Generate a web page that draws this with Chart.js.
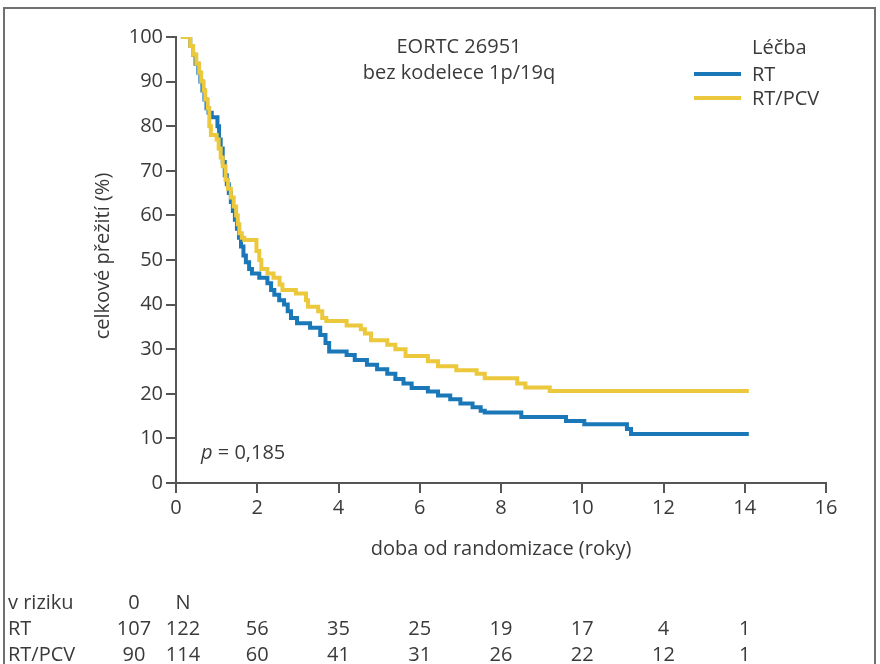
<!DOCTYPE html>
<html>
<head>
<meta charset="utf-8">
<script src="https://cdn.jsdelivr.net/npm/chart.js@4.4.0/dist/chart.umd.min.js"></script>
<style>
  html, body { margin: 0; padding: 0; background: #fff; }
  #wrap { position: relative; width: 880px; height: 664px; overflow: hidden; }
  #frame { position: absolute; left: 3px; top: 7px; right: 4px; bottom: -6px; border: 2px solid #707070; }
  canvas { position: absolute; left: 0; top: 0; }
</style>
</head>
<body>
<div id="wrap">
  <canvas id="km" width="880" height="664"></canvas>
  <div id="frame"></div>
</div>
<script>
// Kaplan-Meier: celkove preziti, EORTC 26951 bez kodelece 1p/19q
// hodnoty (roky, %)

const rtTimes = [0.12, 0.35, 0.42, 0.48, 0.55, 0.6, 0.65, 0.7, 0.75, 0.8, 0.88, 1.02, 1.06, 1.1, 1.15, 1.2, 1.25, 1.3, 1.35, 1.4, 1.45, 1.5, 1.55, 1.6, 1.66, 1.72, 1.8, 1.87, 2.05, 2.25, 2.34, 2.42, 2.54, 2.66, 2.75, 2.83, 2.98, 3.3, 3.55, 3.68, 3.77, 4.2, 4.4, 4.7, 4.95, 5.2, 5.4, 5.6, 5.8, 6.2, 6.45, 6.75, 7.0, 7.3, 7.5, 7.6, 8.5, 9.6, 10.05, 11.1, 11.2, 14.1];
const rtSurv  = [100, 98, 96, 94, 92, 90, 88, 86, 84, 83, 82, 80, 77, 75, 72, 69, 67, 65, 63, 61, 59, 57, 55, 53, 51, 49.5, 48, 47, 46, 44.8, 43.3, 42.2, 41, 40, 38.5, 37, 35.8, 34.8, 33.2, 31.4, 29.5, 28.7, 27.6, 26.5, 25.5, 24.5, 23.3, 22.3, 21.3, 20.5, 19.6, 18.8, 17.8, 17, 16.2, 15.8, 14.8, 13.9, 13.2, 12.1, 11.0, 11.0];

const pcvTimes = [0.12, 0.35, 0.42, 0.5, 0.57, 0.62, 0.68, 0.72, 0.78, 0.82, 0.86, 1.0, 1.05, 1.1, 1.15, 1.22, 1.28, 1.35, 1.42, 1.48, 1.52, 1.56, 1.62, 1.68, 1.98, 2.05, 2.1, 2.25, 2.4, 2.55, 2.62, 2.95, 3.2, 3.25, 3.5, 3.6, 3.7, 4.2, 4.55, 4.65, 4.8, 5.2, 5.4, 5.65, 6.2, 6.45, 6.9, 7.4, 7.6, 8.4, 8.6, 9.2, 14.1];
const pcvSurv  = [100, 98, 96, 94, 92, 90, 88, 86, 84, 80, 78, 77, 75, 73, 71, 68, 66, 64, 62, 60, 58, 56, 55, 54.5, 52, 50, 48, 47, 46, 44.5, 43.3, 42.5, 41, 39.5, 38.5, 37, 36.3, 35.3, 34.5, 33.5, 32, 31, 30, 28.5, 27.3, 26.2, 25.3, 24.5, 23.5, 22.3, 21.4, 20.6, 20.6];

// tabulka "v riziku"
const riskYears = [2, 4, 6, 8, 10, 12, 14];
const rtAtRisk  = [56, 35, 25, 19, 17, 4, 1];
const pcvAtRisk = [60, 41, 31, 26, 22, 12, 1];
const startHeads = ['0', 'N'];
const rtStart  = [107, 122];
const pcvStart = [90, 114];

const colorRT  = '#1a78b8';
const colorPCV = '#ecc83c';
const textColor = '#3a3a3a';
const axisColor = '#555555';
const FONT = '"Open Sans", sans-serif';
const FS = 20;

const toPoints = (xs, ys) => xs.map((x, i) => ({ x: x, y: ys[i] }));

// ---------------------------------------------------------
// texty kolem grafu (titulek, legenda, p, tabulka)
// ---------------------------------------------------------
const extras = {
    id: 'extras',
    afterDraw(chart) {
        const ctx = chart.ctx;
        const xs = chart.scales.x;
        const area = chart.chartArea;
        ctx.save();
        ctx.fillStyle = textColor;
        ctx.font = `${FS}px ${FONT}`;
        ctx.textBaseline = 'middle';

        // nadpis
        ctx.textAlign = 'center';
        ctx.fillText('EORTC 26951', 459, 47);
        ctx.fillText('bez kodelece 1p/19q', 459, 73);

        // osy
        ctx.fillText('doba od randomizace (roky)', (area.left + area.right) / 2, 549);
        ctx.save();
        ctx.translate(103, (area.top + area.bottom) / 2 - 4);
        ctx.rotate(-Math.PI / 2);
        ctx.fillText('celkové přežití (%)', 0, 0);
        ctx.restore();

        // legenda
        ctx.textAlign = 'left';
        ctx.fillText('Léčba', 752, 48);
        const leg = [['RT', colorRT, 74], ['RT/PCV', colorPCV, 98]];
        leg.forEach(([lab, col, y]) => {
            ctx.strokeStyle = col;
            ctx.lineWidth = 4;
            ctx.beginPath();
            ctx.moveTo(694, y);
            ctx.lineTo(741, y);
            ctx.stroke();
            ctx.fillText(lab, 752, y + 1);
        });

        // p hodnota
        ctx.font = `italic ${FS}px ${FONT}`;
        ctx.fillText('p', 201, 453);
        const pw = ctx.measureText('p').width;
        ctx.font = `${FS}px ${FONT}`;
        ctx.fillText(' = 0,185', 201 + pw, 453);

        // v riziku
        const rows = [
            ['v riziku', startHeads, null, 603],
            ['RT', rtStart, rtAtRisk, 629],
            ['RT/PCV', pcvStart, pcvAtRisk, 655]
        ];
        const x0 = xs.getPixelForValue(0);
        rows.forEach(([lab, first, vals, y]) => {
            ctx.textAlign = 'left';
            ctx.fillText(lab, 8, y);
            ctx.textAlign = 'center';
            ctx.fillText(String(first[0]), x0 - 42, y);
            ctx.fillText(String(first[1]), x0 + 7, y);
            if (vals) {
                vals.forEach((v, i) => ctx.fillText(String(v), xs.getPixelForValue(riskYears[i]), y));
            }
        });
        ctx.restore();
    }
};

new Chart(document.getElementById('km'), {
    type: 'line',
    data: {
        datasets: [
            {
                label: 'RT',
                data: toPoints(rtTimes, rtSurv),
                borderColor: colorRT,
                borderWidth: 4,
                stepped: true,
                pointRadius: 0,
                fill: false,
                order: 1
            },
            {
                label: 'RT/PCV',
                data: toPoints(pcvTimes, pcvSurv),
                borderColor: colorPCV,
                borderWidth: 4,
                stepped: true,
                pointRadius: 0,
                fill: false,
                order: 0
            }
        ]
    },
    options: {
        responsive: false,
        animation: false,
        devicePixelRatio: 1,
        layout: { padding: { top: 37, right: 54, left: 0, bottom: 0 } },
        plugins: {
            legend: { display: false },
            tooltip: { enabled: false }
        },
        scales: {
            x: {
                type: 'linear',
                min: 0,
                max: 16,
                afterFit: (s) => { s.height = 181; },
                ticks: { stepSize: 2, color: textColor, padding: 3, font: { family: FONT, size: FS } },
                grid: { drawOnChartArea: false, drawTicks: true, tickLength: 10, color: axisColor, lineWidth: 2 },
                border: { color: axisColor, width: 2 }
            },
            y: {
                min: 0,
                max: 100,
                afterFit: (s) => { s.width = 176; },
                ticks: { stepSize: 10, color: textColor, padding: 3, font: { family: FONT, size: FS } },
                grid: { drawOnChartArea: false, drawTicks: true, tickLength: 10, color: axisColor, lineWidth: 2 },
                border: { color: axisColor, width: 2 }
            }
        }
    },
    plugins: [extras]
});
</script>
</body>
</html>
